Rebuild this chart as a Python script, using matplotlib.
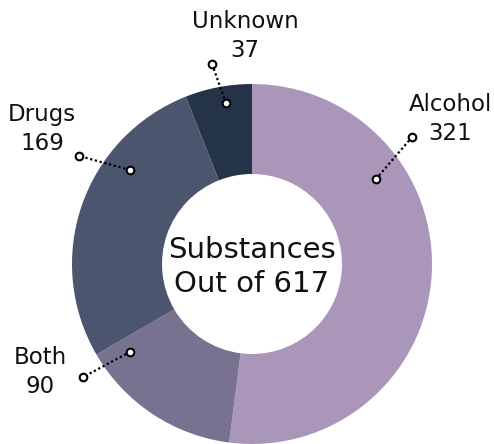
import matplotlib
matplotlib.use("Agg")
import matplotlib.pyplot as plt
import numpy as np

# data
labels = ["Alcohol", "Both", "Drugs", "Unknown"]
values = [321, 90, 169, 37]
colors = ["#a996b9", "#78718f", "#4b556e", "#243446"]
center_title = "Substances"

total = sum(values)

# label callout layout (angle in degrees, inner r, outer r, text position)
callout_ang = [(34.4, 38.4), (215.8, 213.8), (142.4, 148.0), (99.2, 101.3)]
callout_r = [(150, 204), (150, 203), (154, 204), (163, 204)]
text_pos = [(450, 325), (40, 72), (42, 315), (245, 408)]

W, H = 494, 444
fig = plt.figure(figsize=(W / 100, H / 100), dpi=100)
ax = fig.add_axes([0, 0, 1, 1])
ax.set_xlim(0, W)
ax.set_ylim(0, H)
ax.axis("off")

cx, cy, R = 252, 180, 180
ax.pie(values, colors=colors, startangle=90, counterclock=False,
       center=(cx, cy), radius=R, frame=True,
       wedgeprops=dict(width=90, linewidth=0))
ax.set_xlim(0, W)
ax.set_ylim(0, H)
ax.set_aspect("auto")
ax.axis("off")

for lab, val, (a1, a2), (r1, r2), (tx, ty) in zip(labels, values, callout_ang, callout_r, text_pos):
    x1 = cx + r1 * np.cos(np.radians(a1))
    y1 = cy + r1 * np.sin(np.radians(a1))
    x2 = cx + r2 * np.cos(np.radians(a2))
    y2 = cy + r2 * np.sin(np.radians(a2))
    ax.plot([x1, x2], [y1, y2], color="black", linestyle=(0, (1, 1.2)), linewidth=1.6, zorder=3)
    ax.plot([x1, x2], [y1, y2], "o", markersize=5.5, markerfacecolor="white",
            markeredgecolor="black", markeredgewidth=1.5, zorder=4)
    ax.text(tx, ty, f"{lab}\n{val}", ha="center", va="center", fontsize=16.5,
            linespacing=1.3, color="#111111", family="DejaVu Sans")

ax.text(cx, cy - 3, f"{center_title}\nOut of {total}", ha="center", va="center",
        fontsize=21, linespacing=1.3, color="#111111", family="DejaVu Sans")

fig.savefig("out.png", dpi=100)
